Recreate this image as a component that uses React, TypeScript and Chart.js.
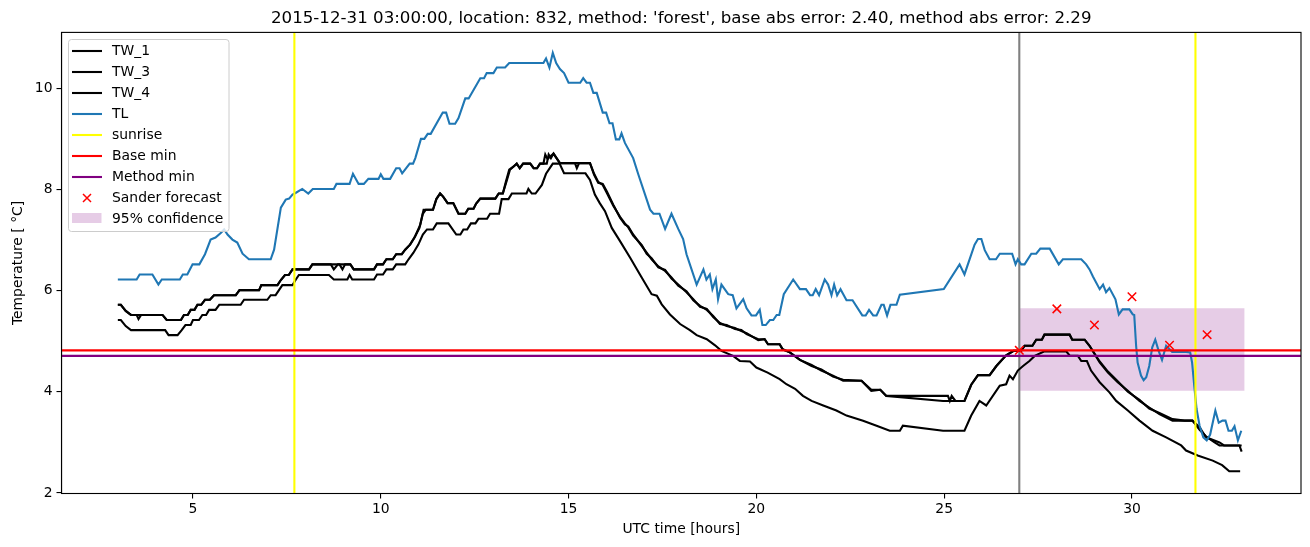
import { useEffect, useRef } from "react";
import { Chart, registerables } from "chart.js";

Chart.register(...registerables);

const TITLE =
  "2015-12-31 03:00:00, location: 832, method: 'forest', base abs error: 2.40, method abs error: 2.29";
const X_LABEL = "UTC time [hours]";
const Y_LABEL = "Temperature [ °C]";
const X_TICKS = [5, 10, 15, 20, 25, 30];
const Y_TICKS = [2, 4, 6, 8, 10];
const X_MIN = 1.5;
const X_MAX = 34.5;
const Y_MIN = 1.99;
const Y_MAX = 11.105;

// [hour, temperature]
const TW_1: [number, number][] = [
  [3.0, 5.72], [3.08, 5.72], [3.21, 5.6], [3.35, 5.52], [4.19, 5.52], [4.3, 5.42], [4.68, 5.42],
  [4.76, 5.52], [4.86, 5.52], [4.94, 5.62], [5.04, 5.62], [5.12, 5.72], [5.22, 5.72], [5.32, 5.82],
  [5.45, 5.82], [5.56, 5.91], [6.14, 5.91], [6.24, 6.01], [6.76, 6.01], [6.82, 6.11], [7.25, 6.11],
  [7.34, 6.21], [7.45, 6.31], [7.55, 6.31], [7.65, 6.42], [8.09, 6.42], [8.18, 6.52], [8.67, 6.52],
  [8.75, 6.42], [8.86, 6.52], [9.19, 6.52], [9.28, 6.42], [9.82, 6.42], [9.9, 6.52], [10.06, 6.52],
  [10.15, 6.62], [10.32, 6.62], [10.41, 6.72], [10.56, 6.72], [10.65, 6.81], [10.78, 6.91],
  [10.92, 7.08], [11.03, 7.24], [11.14, 7.6], [11.39, 7.6], [11.48, 7.81], [11.58, 7.92],
  [11.66, 7.86], [11.78, 7.73], [11.93, 7.73], [12.07, 7.52], [12.25, 7.52], [12.33, 7.62],
  [12.47, 7.62], [12.54, 7.72], [12.65, 7.82], [13.05, 7.82], [13.14, 7.92], [13.25, 7.92],
  [13.36, 8.19], [13.44, 8.39], [13.53, 8.45], [13.62, 8.51], [13.7, 8.42], [13.79, 8.51],
  [13.98, 8.51], [14.07, 8.42], [14.16, 8.42], [14.24, 8.51], [14.33, 8.51], [14.38, 8.69],
  [14.44, 8.6], [14.51, 8.65], [14.6, 8.71], [14.68, 8.62], [14.77, 8.52], [15.57, 8.52],
  [15.68, 8.29], [15.79, 8.13], [15.91, 8.11], [16.02, 7.96], [16.19, 7.7], [16.37, 7.44],
  [16.5, 7.31], [16.59, 7.27], [16.72, 7.11], [16.95, 6.88], [17.08, 6.75], [17.21, 6.62],
  [17.39, 6.48], [17.57, 6.39], [17.74, 6.26], [17.92, 6.1], [18.14, 5.99], [18.32, 5.81],
  [18.5, 5.7], [18.68, 5.62], [18.85, 5.5], [19.03, 5.34], [19.21, 5.32], [19.43, 5.24],
  [19.6, 5.22], [19.74, 5.14], [20.05, 5.04], [20.22, 5.04], [20.31, 4.94], [20.62, 4.94],
  [20.7, 4.84], [20.89, 4.78], [21.16, 4.63], [21.47, 4.53], [21.73, 4.42], [22.04, 4.32],
  [22.31, 4.22], [22.8, 4.22], [23.06, 4.04], [23.3, 4.04], [23.46, 3.92], [24.97, 3.82],
  [25.54, 3.82], [25.72, 4.14], [25.9, 4.33], [26.21, 4.33], [26.39, 4.51], [26.51, 4.61],
  [26.65, 4.72], [26.85, 4.81], [27.05, 4.81], [27.14, 4.91], [27.35, 4.91], [27.45, 5.03],
  [27.6, 5.03], [27.67, 5.13], [28.34, 5.13], [28.41, 5.03], [28.74, 5.03], [28.87, 4.91],
  [29.14, 4.58], [29.36, 4.38], [29.62, 4.19], [29.89, 4.02], [30.2, 3.82], [30.46, 3.69],
  [30.73, 3.56], [31.08, 3.43], [31.61, 3.43], [31.8, 3.3], [31.97, 3.1], [32.33, 3.0],
  [32.45, 2.94], [32.86, 2.94], [32.92, 2.82],
];

const TW_3: [number, number][] = [
  [3.0, 5.72], [3.08, 5.72], [3.21, 5.6], [3.35, 5.52], [3.5, 5.52], [3.55, 5.44], [3.62, 5.52],
  [4.19, 5.52], [4.3, 5.42], [4.68, 5.42], [4.76, 5.52], [4.86, 5.52], [4.94, 5.62], [5.04, 5.62],
  [5.12, 5.72], [5.22, 5.72], [5.32, 5.82], [5.45, 5.82], [5.56, 5.91], [6.14, 5.91], [6.24, 6.01],
  [6.76, 6.01], [6.82, 6.11], [7.25, 6.11], [7.34, 6.21], [7.45, 6.31], [7.55, 6.31], [7.65, 6.42],
  [8.09, 6.42], [8.18, 6.52], [8.9, 6.52], [8.98, 6.42], [9.05, 6.52], [9.19, 6.52], [9.28, 6.42],
  [9.82, 6.42], [9.9, 6.52], [10.06, 6.52], [10.15, 6.62], [10.32, 6.62], [10.41, 6.72],
  [10.56, 6.72], [10.65, 6.81], [10.78, 6.91], [10.9, 7.05], [11.05, 7.3], [11.12, 7.52],
  [11.2, 7.6], [11.39, 7.6], [11.48, 7.81], [11.58, 7.92], [11.66, 7.86], [11.78, 7.73],
  [11.93, 7.73], [12.07, 7.52], [12.25, 7.52], [12.33, 7.62], [12.47, 7.62], [12.54, 7.72],
  [12.65, 7.82], [13.05, 7.82], [13.14, 7.92], [13.25, 7.92], [13.33, 8.15], [13.42, 8.39],
  [13.53, 8.45], [13.62, 8.51], [13.7, 8.42], [13.79, 8.51], [13.98, 8.51], [14.07, 8.42],
  [14.16, 8.42], [14.24, 8.51], [14.42, 8.51], [14.47, 8.69], [14.53, 8.62], [14.6, 8.71],
  [14.68, 8.62], [14.77, 8.52], [15.17, 8.52], [15.22, 8.42], [15.28, 8.52], [15.57, 8.52],
  [15.68, 8.31], [15.79, 8.15], [15.91, 8.09], [16.02, 7.93], [16.19, 7.68], [16.37, 7.46],
  [16.5, 7.33], [16.59, 7.25], [16.72, 7.09], [16.95, 6.9], [17.08, 6.73], [17.21, 6.64],
  [17.39, 6.46], [17.57, 6.41], [17.74, 6.24], [17.92, 6.12], [18.14, 5.97], [18.32, 5.83],
  [18.5, 5.68], [18.68, 5.64], [18.85, 5.48], [19.03, 5.36], [19.21, 5.3], [19.43, 5.26],
  [19.6, 5.2], [19.74, 5.16], [20.05, 5.02], [20.22, 5.04], [20.31, 4.94], [20.62, 4.94],
  [20.7, 4.84], [20.89, 4.78], [21.16, 4.63], [21.47, 4.51], [21.73, 4.44], [22.04, 4.3],
  [22.31, 4.24], [22.8, 4.22], [23.06, 4.02], [23.3, 4.04], [23.46, 3.92], [25.1, 3.92],
  [25.15, 3.82], [25.2, 3.92], [25.3, 3.82], [25.54, 3.82], [25.72, 4.14], [25.9, 4.33],
  [26.21, 4.33], [26.39, 4.51], [26.51, 4.61], [26.65, 4.72], [26.85, 4.81], [27.05, 4.81],
  [27.14, 4.91], [27.35, 4.91], [27.45, 5.03], [27.6, 5.03], [27.67, 5.13], [28.34, 5.13],
  [28.41, 5.03], [28.74, 5.03], [28.87, 4.91], [29.14, 4.6], [29.36, 4.4], [29.62, 4.21],
  [29.89, 4.0], [30.2, 3.84], [30.46, 3.67], [30.73, 3.58], [31.08, 3.46], [31.4, 3.43],
  [31.61, 3.43], [31.8, 3.25], [31.97, 3.12], [32.2, 3.0], [32.33, 2.94], [32.92, 2.94],
];

const TW_4: [number, number][] = [
  [3.0, 5.42], [3.08, 5.42], [3.21, 5.3], [3.35, 5.22], [4.26, 5.22], [4.35, 5.12], [4.59, 5.12],
  [4.7, 5.22], [4.8, 5.32], [4.94, 5.32], [5.0, 5.42], [5.16, 5.42], [5.25, 5.52], [5.35, 5.52],
  [5.43, 5.62], [5.6, 5.62], [5.7, 5.72], [6.27, 5.72], [6.36, 5.82], [6.98, 5.82], [7.07, 5.91],
  [7.2, 5.91], [7.29, 6.01], [7.38, 6.11], [7.65, 6.11], [7.74, 6.22], [7.82, 6.31], [8.62, 6.31],
  [8.75, 6.22], [9.11, 6.22], [9.17, 6.31], [9.24, 6.22], [9.82, 6.22], [9.9, 6.32], [10.06, 6.32],
  [10.15, 6.42], [10.32, 6.42], [10.41, 6.52], [10.65, 6.52], [10.74, 6.62], [10.87, 6.75],
  [11.0, 6.91], [11.12, 7.11], [11.23, 7.21], [11.39, 7.21], [11.49, 7.33], [11.8, 7.33],
  [12.01, 7.11], [12.12, 7.11], [12.2, 7.21], [12.3, 7.21], [12.4, 7.33], [12.52, 7.33],
  [12.6, 7.42], [12.83, 7.42], [12.91, 7.52], [13.15, 7.52], [13.22, 7.81], [13.4, 7.81],
  [13.49, 7.92], [13.88, 7.92], [13.93, 8.01], [14.02, 7.92], [14.12, 7.92], [14.29, 8.09],
  [14.4, 8.31], [14.58, 8.51], [14.76, 8.51], [14.88, 8.32], [15.45, 8.32], [15.57, 8.19],
  [15.7, 7.9], [15.83, 7.73], [15.97, 7.57], [16.15, 7.24], [16.37, 6.98], [16.64, 6.65],
  [16.9, 6.32], [17.21, 5.93], [17.35, 5.9], [17.48, 5.73], [17.7, 5.53], [17.97, 5.34],
  [18.23, 5.22], [18.41, 5.12], [18.68, 5.04], [18.9, 4.92], [19.07, 4.81], [19.38, 4.71],
  [19.56, 4.61], [19.83, 4.6], [20.0, 4.48], [20.3, 4.38], [20.62, 4.25], [20.8, 4.15],
  [21.03, 4.06], [21.24, 3.92], [21.47, 3.82], [21.78, 3.73], [22.13, 3.63], [22.4, 3.53],
  [22.84, 3.43], [23.2, 3.33], [23.55, 3.23], [23.82, 3.23], [23.9, 3.33], [24.97, 3.23],
  [25.54, 3.23], [25.72, 3.53], [25.94, 3.82], [26.12, 3.73], [26.48, 4.12], [26.65, 4.15],
  [26.74, 4.32], [26.83, 4.25], [26.96, 4.42], [27.1, 4.51], [27.27, 4.61], [27.41, 4.71],
  [27.67, 4.8], [28.25, 4.8], [28.35, 4.71], [28.56, 4.71], [28.65, 4.61], [28.8, 4.61],
  [28.91, 4.42], [29.14, 4.19], [29.4, 3.99], [29.58, 3.82], [29.89, 3.63], [30.2, 3.43],
  [30.55, 3.23], [30.91, 3.1], [31.31, 2.94], [31.44, 2.84], [31.75, 2.74], [32.15, 2.64],
  [32.4, 2.55], [32.59, 2.43], [32.88, 2.43],
];

const TL: [number, number][] = [
  [3.0, 6.22], [3.5, 6.22], [3.58, 6.32], [3.92, 6.32], [4.08, 6.12], [4.17, 6.22], [4.65, 6.22],
  [4.73, 6.32], [4.85, 6.32], [4.99, 6.52], [5.17, 6.52], [5.32, 6.72], [5.47, 7.01], [5.6, 7.05],
  [5.74, 7.14], [5.83, 7.21], [5.92, 7.11], [6.05, 7.01], [6.18, 6.95], [6.32, 6.73], [6.49, 6.62],
  [7.07, 6.62], [7.16, 6.81], [7.34, 7.64], [7.47, 7.8], [7.56, 7.82], [7.65, 7.9], [7.73, 7.93],
  [7.91, 8.01], [8.07, 7.92], [8.19, 8.01], [8.75, 8.01], [8.82, 8.11], [9.17, 8.11], [9.26, 8.31],
  [9.41, 8.11], [9.55, 8.11], [9.67, 8.21], [9.94, 8.21], [10.0, 8.3], [10.07, 8.21], [10.25, 8.21],
  [10.41, 8.42], [10.5, 8.42], [10.57, 8.32], [10.77, 8.51], [10.86, 8.51], [10.92, 8.62],
  [11.07, 9.0], [11.16, 9.0], [11.25, 9.1], [11.33, 9.1], [11.65, 9.52], [11.74, 9.52],
  [11.83, 9.3], [11.98, 9.3], [12.07, 9.41], [12.25, 9.8], [12.34, 9.8], [12.65, 10.2],
  [12.75, 10.2], [12.82, 10.3], [13.0, 10.3], [13.09, 10.41], [13.31, 10.41], [13.42, 10.5],
  [14.33, 10.5], [14.4, 10.59], [14.49, 10.41], [14.58, 10.7], [14.67, 10.5], [14.77, 10.38],
  [14.88, 10.3], [15.0, 10.11], [15.31, 10.11], [15.39, 10.2], [15.48, 10.11], [15.57, 10.11],
  [15.66, 9.91], [15.75, 9.91], [15.91, 9.52], [16.0, 9.52], [16.09, 9.31], [16.17, 9.31],
  [16.26, 8.99], [16.35, 8.99], [16.41, 9.11], [16.5, 8.92], [16.72, 8.62], [16.86, 8.29],
  [17.17, 7.6], [17.26, 7.52], [17.42, 7.52], [17.57, 7.22], [17.74, 7.52], [17.92, 7.22],
  [18.05, 7.02], [18.14, 6.72], [18.41, 6.12], [18.59, 6.42], [18.67, 6.22], [18.76, 6.32],
  [18.83, 6.03], [18.92, 6.22], [18.98, 5.83], [19.07, 6.12], [19.25, 5.93], [19.37, 5.91],
  [19.47, 5.65], [19.65, 5.83], [19.74, 5.65], [19.87, 5.51], [19.99, 5.51], [20.09, 5.62],
  [20.16, 5.32], [20.25, 5.32], [20.36, 5.42], [20.45, 5.42], [20.54, 5.52], [20.61, 5.52],
  [20.73, 5.93], [20.98, 6.22], [21.16, 6.03], [21.32, 6.03], [21.43, 5.91], [21.5, 5.91],
  [21.58, 6.03], [21.67, 5.91], [21.82, 6.22], [21.91, 6.12], [22.0, 5.91], [22.07, 6.12],
  [22.15, 5.91], [22.24, 6.03], [22.4, 5.81], [22.56, 5.81], [22.82, 5.51], [22.91, 5.51],
  [23.0, 5.62], [23.11, 5.51], [23.2, 5.51], [23.33, 5.72], [23.39, 5.72], [23.48, 5.51],
  [23.57, 5.72], [23.73, 5.72], [23.82, 5.92], [24.99, 6.03], [25.41, 6.52], [25.54, 6.32],
  [25.81, 6.91], [25.9, 7.02], [25.99, 7.02], [26.08, 6.8], [26.21, 6.62], [26.38, 6.62],
  [26.48, 6.73], [26.81, 6.73], [26.9, 6.52], [26.96, 6.62], [27.05, 6.52], [27.14, 6.52],
  [27.32, 6.73], [27.45, 6.73], [27.56, 6.83], [27.81, 6.83], [28.05, 6.52], [28.16, 6.62],
  [28.65, 6.62], [28.78, 6.52], [28.87, 6.42], [28.96, 6.28], [29.14, 6.03], [29.23, 6.12],
  [29.31, 5.97], [29.4, 6.05], [29.56, 5.83], [29.65, 5.53], [29.75, 5.63], [29.93, 5.63],
  [30.02, 5.53], [30.06, 5.52], [30.11, 4.91], [30.15, 4.58], [30.24, 4.32], [30.31, 4.23],
  [30.38, 4.29], [30.46, 4.51], [30.54, 4.88], [30.62, 5.03], [30.71, 4.81], [30.8, 4.63],
  [30.91, 4.91], [31.07, 4.79], [31.44, 4.79], [31.55, 4.78], [31.6, 4.58], [31.66, 4.1],
  [31.72, 3.66], [31.8, 3.33], [31.9, 3.1], [31.99, 3.04], [32.08, 3.15], [32.22, 3.63],
  [32.31, 3.39], [32.41, 3.43], [32.49, 3.43], [32.57, 3.23], [32.66, 3.23], [32.73, 3.32],
  [32.82, 3.04], [32.91, 3.23],
];

const SUNRISE_HOURS = [7.7, 31.69];
const FORECAST_HOUR = 27.0;
const BASE_MIN = 4.82;
const METHOD_MIN = 4.71;
const SANDER_HOURS = [27, 28, 29, 30, 31, 32];
const SANDER_VALUES = [4.82, 5.64, 5.32, 5.88, 4.92, 5.13];
const CONF_HOURS = [27.0, 33.0];
const CONF_LOW = 4.02;
const CONF_HIGH = 5.65;

const LEGEND_ITEMS = [
  { label: "TW_1", kind: "line", color: "#000000" },
  { label: "TW_3", kind: "line", color: "#000000" },
  { label: "TW_4", kind: "line", color: "#000000" },
  { label: "TL", kind: "line", color: "#1f77b4" },
  { label: "sunrise", kind: "line", color: "#ffff00" },
  { label: "Base min", kind: "line", color: "#ff0000" },
  { label: "Method min", kind: "line", color: "#800080" },
  { label: "Sander forecast", kind: "marker", color: "#ff0000" },
  { label: "95% confidence", kind: "patch", color: "rgba(128,0,128,0.2)" },
];

const FONT = "'DejaVu Sans', 'Liberation Sans', sans-serif";
const LW = 2.1;

const xy = (arr: [number, number][]) => arr.map(([x, y]) => ({ x, y }));

export default function App() {
  const ref = useRef<HTMLCanvasElement | null>(null);

  useEffect(() => {
    document.body.style.margin = "0";
    const canvas = ref.current;
    if (!canvas) return;

    const lineDs = (label: string, data: any[], color: string, order: number, extra: any = {}) => ({
      label,
      data,
      borderColor: color,
      backgroundColor: color,
      borderWidth: LW,
      pointRadius: 0,
      tension: 0,
      fill: false,
      order,
      ...extra,
    });

    const decor = {
      id: "decor",
      afterDraw(chart: any) {
        const { ctx, chartArea } = chart;
        const { left, right, top, bottom } = chartArea;
        ctx.save();
        // frame
        ctx.strokeStyle = "#000";
        ctx.lineWidth = 1.1;
        ctx.strokeRect(left, top, right - left, bottom - top);
        // title
        ctx.fillStyle = "#000";
        ctx.font = `16.67px ${FONT}`;
        ctx.textAlign = "center";
        ctx.textBaseline = "alphabetic";
        ctx.fillText(TITLE, (left + right) / 2, 23);
        // x label
        ctx.font = `13.9px ${FONT}`;
        ctx.textBaseline = "middle";
        ctx.fillText(X_LABEL, (left + right) / 2, 529);
        // y label
        ctx.save();
        ctx.translate(18, (top + bottom) / 2);
        ctx.rotate(-Math.PI / 2);
        ctx.fillText(Y_LABEL, 0, 0);
        ctx.restore();
        // legend
        const bx = 68.5, by = 39.5, bw = 160.5, bh = 192;
        ctx.beginPath();
        const r = 3;
        ctx.moveTo(bx + r, by);
        ctx.lineTo(bx + bw - r, by);
        ctx.quadraticCurveTo(bx + bw, by, bx + bw, by + r);
        ctx.lineTo(bx + bw, by + bh - r);
        ctx.quadraticCurveTo(bx + bw, by + bh, bx + bw - r, by + bh);
        ctx.lineTo(bx + r, by + bh);
        ctx.quadraticCurveTo(bx, by + bh, bx, by + bh - r);
        ctx.lineTo(bx, by + r);
        ctx.quadraticCurveTo(bx, by, bx + r, by);
        ctx.closePath();
        ctx.fillStyle = "rgba(255,255,255,0.8)";
        ctx.fill();
        ctx.strokeStyle = "#cccccc";
        ctx.lineWidth = 1;
        ctx.stroke();
        ctx.textAlign = "left";
        ctx.textBaseline = "middle";
        ctx.font = `13.9px ${FONT}`;
        LEGEND_ITEMS.forEach((item, i) => {
          const y = 51 + 21 * i;
          if (item.kind === "line") {
            ctx.strokeStyle = item.color;
            ctx.lineWidth = LW;
            ctx.beginPath();
            ctx.moveTo(72, y);
            ctx.lineTo(102, y);
            ctx.stroke();
          } else if (item.kind === "marker") {
            ctx.strokeStyle = item.color;
            ctx.lineWidth = 1.5;
            ctx.beginPath();
            ctx.moveTo(83, y - 4);
            ctx.lineTo(91, y + 4);
            ctx.moveTo(91, y - 4);
            ctx.lineTo(83, y + 4);
            ctx.stroke();
          } else {
            ctx.fillStyle = item.color;
            ctx.fillRect(72, y - 6, 29.5, 10);
          }
          ctx.fillStyle = "#000";
          ctx.fillText(item.label, 112, y);
        });
        ctx.restore();
      },
    };

    const vline = (h: number) => [
      { x: h, y: Y_MIN },
      { x: h, y: Y_MAX },
    ];
    const hline = (v: number) => [
      { x: X_MIN, y: v },
      { x: X_MAX, y: v },
    ];

    const chart = new Chart(canvas, {
      type: "line",
      data: {
        datasets: [
          {
            label: "95% confidence",
            data: CONF_HOURS.map((h) => ({ x: h, y: CONF_HIGH })),
            borderWidth: 0,
            pointRadius: 0,
            backgroundColor: "rgba(128,0,128,0.2)",
            borderColor: "rgba(0,0,0,0)",
            fill: { value: CONF_LOW },
            order: 100,
          },
          lineDs("forecast time", vline(FORECAST_HOUR), "#808080", 95),
          lineDs("TW_1", xy(TW_1), "#000000", 80),
          lineDs("TW_3", xy(TW_3), "#000000", 79),
          lineDs("TW_4", xy(TW_4), "#000000", 78),
          lineDs("TL", xy(TL), "#1f77b4", 70),
          lineDs("sunrise", vline(SUNRISE_HOURS[0]), "#ffff00", 60),
          lineDs("sunrise 2", vline(SUNRISE_HOURS[1]), "#ffff00", 59),
          lineDs("Base min", hline(BASE_MIN), "#ff0000", 50),
          lineDs("Method min", hline(METHOD_MIN), "#800080", 40),
          {
            label: "Sander forecast",
            data: SANDER_HOURS.map((h, i) => ({ x: h, y: SANDER_VALUES[i] })),
            showLine: false,
            pointStyle: "crossRot",
            pointRadius: 6,
            pointBorderWidth: 1.5,
            borderColor: "#ff0000",
            backgroundColor: "#ff0000",
            order: 10,
          },
        ] as any,
      },
      options: {
        animation: false,
        responsive: true,
        maintainAspectRatio: false,
        devicePixelRatio: 1,
        layout: { padding: { top: 32.4, right: 9, left: 0, bottom: 0 } },
        plugins: {
          legend: { display: false },
          tooltip: { enabled: false },
          title: { display: false },
        },
        scales: {
          x: {
            type: "linear",
            min: X_MIN,
            max: X_MAX,
            afterBuildTicks: (axis: any) => {
              axis.ticks = X_TICKS.map((v) => ({ value: v }));
            },
            afterFit: (s: any) => {
              s.height = 53.5;
            },
            grid: {
              display: true,
              drawOnChartArea: false,
              drawTicks: true,
              tickLength: 5,
              color: "#000",
              lineWidth: 1.1,
            },
            border: { display: true, color: "#000", width: 1.1 },
            ticks: {
              color: "#000",
              font: { family: FONT, size: 13.9 },
              padding: 3,
              maxRotation: 0,
              autoSkip: false,
            },
          },
          y: {
            type: "linear",
            min: Y_MIN,
            max: Y_MAX,
            afterBuildTicks: (axis: any) => {
              axis.ticks = Y_TICKS.map((v) => ({ value: v }));
            },
            afterFit: (s: any) => {
              s.width = 61.5;
            },
            grid: {
              display: true,
              drawOnChartArea: false,
              drawTicks: true,
              tickLength: 5,
              color: "#000",
              lineWidth: 1.1,
            },
            border: { display: true, color: "#000", width: 1.1 },
            ticks: {
              color: "#000",
              font: { family: FONT, size: 13.9 },
              padding: 4,
              autoSkip: false,
            },
          },
        },
      } as any,
      plugins: [decor],
    });

    return () => chart.destroy();
  }, []);

  return (
    <div style={{ position: "fixed", left: 0, top: 0, width: 1310, height: 547, background: "#fff" }}>
      <canvas ref={ref} />
    </div>
  );
}
